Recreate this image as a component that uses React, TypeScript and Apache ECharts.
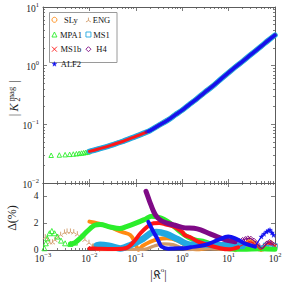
import React, { useEffect, useRef } from "react";
import * as echarts from "echarts";

// ---------- ticks ----------
const X_DECADES = [0.001, 0.01, 0.1, 1, 10, 100];
const Y_DECADES = [0.01, 0.1, 1, 10];
const DELTA_TICKS = [0, 2, 4];

const COLORS: Record<string, string> = {
  SLy: "#ff8a12",
  ENG: "#d09a68",
  MPA1: "#2bee2b",
  MS1: "#22a8e2",
  MS1b: "#ff1616",
  H4: "#7f0a86",
  ALF2: "#1212f0",
};

// ---------- top panel: |K2^mag| ----------
const MPA1_TOP_R = [0.0015, 0.00225, 0.003, 0.00375, 0.0045, 0.00525, 0.006, 0.00675, 0.0075, 0.00825, 0.009, 0.00975];
const MPA1_TOP_K = [0.0297, 0.03, 0.0304, 0.0308, 0.0312, 0.0316, 0.032, 0.0324, 0.0328, 0.0332, 0.0337, 0.0343];
// the EOS curves coincide within a pixel on this panel
const K_R = [0.01, 0.015, 0.02, 0.03, 0.05, 0.07, 0.1, 0.15, 0.2, 0.3, 0.5, 0.7, 1, 1.5, 2, 3, 5, 7, 10, 15, 20, 30, 50, 70, 100];
const K_MAIN = [0.0346, 0.0376, 0.0401, 0.0443, 0.0505, 0.056, 0.0622, 0.0708, 0.0778, 0.0942, 0.1193, 0.1439, 0.1745, 0.225, 0.267, 0.346, 0.477, 0.601, 0.763, 0.993, 1.18, 1.54, 2.13, 2.66, 3.31];
const H4_TOP_R = [0.166, 0.2, 0.3, 0.5, 0.7, 1, 1.5, 2, 3, 5, 7, 10, 15, 20, 30, 50, 70, 100];
const H4_TOP_K = [0.074, 0.0778, 0.0942, 0.1193, 0.1439, 0.1745, 0.225, 0.267, 0.346, 0.477, 0.601, 0.763, 0.993, 1.18, 1.54, 2.13, 2.66, 3.31];
const ALF2_TOP_R = [0.186, 0.2, 0.3, 0.5, 0.7, 1, 1.5, 2, 3, 5, 7, 10, 15, 20, 30, 50, 70, 100];
const ALF2_TOP_K = [0.0765, 0.0778, 0.0942, 0.1193, 0.1439, 0.1745, 0.225, 0.267, 0.346, 0.477, 0.601, 0.763, 0.993, 1.18, 1.54, 2.13, 2.66, 3.31];

// ---------- bottom panel: Delta (%) ----------
const SLY_D_R = [0.01, 0.0145, 0.017, 0.028, 0.05, 0.076, 0.095, 0.115, 0.14, 0.2, 0.3, 0.47, 0.8, 1.25, 2, 4, 8, 14, 20, 28, 38, 50, 65, 80, 100];
const SLY_D = [2.12, 2.0, 1.95, 1.7, 1.35, 1.12, 0.6, 0.02, 0.3, 0.6, 0.8, 0.87, 0.7, 0.3, 0.05, 0.15, 0.1, 0.05, 0.4, 0.75, 0.5, 0.05, 0.3, 0.55, 0.3];

const ENG_D_R = [0.00112, 0.00126, 0.0014, 0.0016, 0.0018, 0.0021, 0.0024, 0.0029, 0.0033, 0.0039, 0.0046, 0.0055, 0.0066, 0.008, 0.0098, 0.012, 0.015, 0.02, 0.05, 0.15, 0.25, 0.4, 0.63, 1.0, 1.4, 3, 10, 30, 100];
const ENG_D = [1.0, 0.8, 0.62, 0.62, 0.8, 1.0, 1.18, 1.35, 1.42, 1.42, 1.37, 1.22, 1.03, 0.82, 0.58, 0.33, 0.08, 0.02, 0.05, 0.05, 0.3, 0.45, 0.4, 0.15, 0.03, 0.1, 0.05, 0.2, 0.1];

const MPA1_D_R = [0.00107, 0.00115, 0.00123, 0.00138, 0.00155, 0.00178, 0.00204, 0.00245, 0.003, 0.0039, 0.0049, 0.0063, 0.0081, 0.0105, 0.013, 0.017, 0.028, 0.045, 0.063, 0.1, 0.16, 0.22, 0.3, 0.4, 0.55, 0.9, 1.15, 1.5, 1.9, 3.1, 6, 10, 20, 50, 100];
const MPA1_D = [0.13, 0.5, 0.87, 1.25, 1.42, 1.25, 1.0, 0.7, 0.5, 0.45, 0.55, 0.87, 1.25, 1.62, 1.85, 1.9, 1.72, 1.6, 1.75, 2.0, 2.3, 2.52, 2.45, 2.3, 2.0, 1.37, 1.1, 0.87, 0.75, 0.6, 0.25, 0.1, 0.05, 0.1, 0.05];

const MS1_D_R = [0.0145, 0.017, 0.028, 0.046, 0.08, 0.145, 0.22, 0.28, 0.45, 0.8, 1.5, 2.5, 5, 10, 20, 30, 40, 63, 80, 100];
const MS1_D = [0.35, 0.4, 0.3, 0.12, 0.4, 0.85, 1.3, 1.35, 1.2, 0.8, 0.4, 0.45, 0.35, 0.35, 0.3, 0.35, 0.2, 0.35, 0.3, 0.3];

const MS1B_D_R = [0.01, 0.015, 0.025, 0.04, 0.063, 0.09, 0.126, 0.178, 0.24, 0.32, 0.45, 0.65, 1.0, 1.15, 1.5, 2.2, 3.6, 6.3, 10, 16, 22, 28, 34, 40, 50, 60, 70, 85, 100];
const MS1B_D = [0.12, 0.1, 0.08, 0.08, 0.15, 0.6, 1.25, 1.75, 2.0, 2.02, 1.9, 1.75, 1.35, 1.1, 0.95, 0.62, 0.37, 0.15, 0.05, 0.2, 0.45, 0.6, 0.5, 0.3, 0.05, 0.3, 0.5, 0.45, 0.3];

const H4_D_R = [0.166, 0.2, 0.24, 0.28, 0.35, 0.47, 0.7, 1.15, 1.8, 2.5, 4, 7, 10, 13.8, 17, 20, 23, 26, 30, 35, 41, 48, 54, 60, 68, 76, 84, 93];
const H4_D = [4.37, 3.6, 2.9, 2.5, 2.2, 2.0, 1.85, 1.65, 1.62, 1.5, 1.2, 0.87, 0.7, 0.62, 0.66, 0.75, 0.82, 0.87, 0.85, 0.7, 0.45, 0.2, 0.12, 0.3, 0.5, 0.6, 0.5, 0.4];

const ALF2_D_R = [0.186, 0.21, 0.245, 0.28, 0.32, 0.36, 0.5, 0.65, 1.15, 1.5, 3.1, 6, 9.8, 13.8, 22, 37, 51, 58, 66, 72, 78, 86, 93];
const ALF2_D = [2.1, 1.75, 1.3, 0.95, 0.55, 0.25, 0.1, 0.12, 0.13, 0.2, 0.37, 0.75, 1.0, 0.87, 0.5, 0.25, 1.0, 1.2, 1.37, 1.45, 1.5, 1.3, 1.12];

// ---------- style ----------
const FONT = "'Liberation Serif', 'DejaVu Serif', serif";
const AXC = "#5c5c5c";
const TXT = "#222";

const SYM_ENG = "path://M5,5L5,0M5,5L0.67,7.5M5,5L9.33,7.5";
const SYM_X = "path://M0,0L10,10M0,10L10,0";
const SYM_STAR = "path://M5,0L6.18,3.38L9.76,3.45L6.9,5.62L7.94,9.05L5,7L2.06,9.05L3.1,5.62L0.24,3.45L3.82,3.38Z";

function minorTicks(decades: number[]) {
  const out: number[] = [];
  for (let i = 0; i < decades.length - 1; i++)
    for (let k = 2; k <= 9; k++) out.push(+(decades[i] * k).toPrecision(3));
  return out;
}

const pow10 = (v: number) => {
  const e = Math.round(Math.log10(v));
  return `{b|10}{s|${e < 0 ? "\u2212" + -e : e}}`;
};
const powRich = {
  b: { fontSize: 9.5, fontFamily: FONT, color: TXT, lineHeight: 13, verticalAlign: "bottom" },
  s: { fontSize: 6.5, fontFamily: FONT, color: TXT, lineHeight: 5, verticalAlign: "top" },
};

const tickLine = { color: AXC, width: 0.8 };

function xAx(grid: number, position: string, ticks: number[], len: number, line: boolean, label?: any) {
  return {
    type: "log", logBase: 10, gridIndex: grid, position, min: 0.001, max: 100,
    axisLine: { show: line, lineStyle: { color: AXC, width: 1 } },
    axisTick: { show: true, inside: true, length: len, customValues: ticks, lineStyle: tickLine },
    axisLabel: label ?? { show: false },
    splitLine: { show: false }, silent: true,
  };
}
function yLog(grid: number, position: string, ticks: number[], len: number, line: boolean, label?: any) {
  return {
    type: "log", logBase: 10, gridIndex: grid, position, min: 0.01, max: 10,
    axisLine: { show: line, lineStyle: { color: AXC, width: 1 } },
    axisTick: { show: true, inside: true, length: len, customValues: ticks, lineStyle: tickLine },
    axisLabel: label ?? { show: false },
    splitLine: { show: false }, silent: true,
  };
}
function yLin(grid: number, position: string, ticks: number[], len: number, line: boolean, label?: any) {
  return {
    type: "value", gridIndex: grid, position, min: 0, max: 5,
    axisLine: { show: line, lineStyle: { color: AXC, width: 1 } },
    axisTick: { show: true, inside: true, length: len, customValues: ticks, lineStyle: tickLine },
    axisLabel: label ?? { show: false },
    splitLine: { show: false }, silent: true,
  };
}

const pts = (r: number[], v: number[]) => r.map((x, i) => [x, v[i]]);
const TOP = 0;
const BOT = 4;

function line(name: string, axis: number, r: number[], v: number[], width: number) {
  const c = COLORS[name];
  return {
    type: "line", name, xAxisIndex: axis, yAxisIndex: axis, data: pts(r, v),
    smooth: 0.35, symbol: "none", showSymbol: false,
    lineStyle: { color: c, width, cap: "round", join: "round" },
    itemStyle: { color: c }, silent: true, animation: false,
  };
}
function marks(name: string, axis: number, r: number[], v: number[], symbol: string, size: number, filled = false) {
  const c = COLORS[name];
  return {
    type: "scatter", name, xAxisIndex: axis, yAxisIndex: axis, data: pts(r, v),
    symbol, symbolSize: size,
    itemStyle: { color: filled ? c : "rgba(255,255,255,0)", borderColor: c, borderWidth: filled ? 0.3 : 0.9, opacity: 1 },
    silent: true, animation: false,
  };
}
// bottom-panel series: thick band, then a thin tail with discrete markers
function withTail(name: string, r: number[], v: number[], width: number, cut: number, symbol: string, size: number, filled = false) {
  return [
    line(name, BOT, r.slice(0, cut + 1), v.slice(0, cut + 1), width),
    line(name, BOT, r.slice(cut), v.slice(cut), 1.2),
    marks(name, BOT, r.slice(cut), v.slice(cut), symbol, size, filled),
  ];
}

function buildOption() {
  const xMin = minorTicks(X_DECADES);
  const yMin = minorTicks(Y_DECADES);
  const series: any[] = [
    // top panel
    line("SLy", TOP, K_R, K_MAIN, 4),
    line("ENG", TOP, K_R, K_MAIN, 3.5),
    marks("MPA1", TOP, MPA1_TOP_R, MPA1_TOP_K, "triangle", 4.5),
    line("MPA1", TOP, K_R, K_MAIN, 4.5),
    line("MS1", TOP, K_R, K_MAIN, 5.5),
    line("MS1b", TOP, K_R, K_MAIN, 3),
    line("H4", TOP, H4_TOP_R, H4_TOP_K, 3),
    line("ALF2", TOP, ALF2_TOP_R, ALF2_TOP_K, 3.4),
    // bottom panel
    ...withTail("SLy", SLY_D_R, SLY_D, 4, 17, "circle", 4.5),
    marks("ENG", BOT, ENG_D_R.slice(0, 17), ENG_D.slice(0, 17), SYM_ENG, 5),
    line("ENG", BOT, ENG_D_R.slice(15), ENG_D.slice(15), 3.2),
    marks("MPA1", BOT, MPA1_D_R.slice(0, 11), MPA1_D.slice(0, 11), "triangle", 5),
    line("MPA1", BOT, MPA1_D_R.slice(9), MPA1_D.slice(9), 5),
    ...withTail("MS1", MS1_D_R, MS1_D, 6.5, 14, "rect", 4.5),
    ...withTail("MS1b", MS1B_D_R, MS1B_D, 4, 19, SYM_X, 4),
    ...withTail("H4", H4_D_R, H4_D, 5, 13, "diamond", 5),
    ...withTail("ALF2", ALF2_D_R, ALF2_D, 4, 15, SYM_STAR, 5, true),
  ];

  const legendCommon = {
    orient: "vertical", itemWidth: 5, itemHeight: 5, itemGap: 5.7, top: 15.3, padding: 0,
    selectedMode: false, z: 6,
  };
  const hollow = (n: string) => ({ color: "rgba(255,255,255,0)", borderColor: COLORS[n], borderWidth: 0.9 });

  return {
    animation: false,
    backgroundColor: "#fff",
    grid: [
      { left: 43, top: 7, width: 232, height: 176, containLabel: false },
      { left: 43, top: 183, width: 232, height: 67, containLabel: false },
    ],
    xAxis: [
      xAx(0, "bottom", X_DECADES, 4, true),
      xAx(0, "bottom", xMin, 2, false),
      xAx(0, "top", X_DECADES, 4, true),
      xAx(0, "top", xMin, 2, false),
      xAx(1, "bottom", X_DECADES, 4, true, {
        show: true, customValues: X_DECADES, formatter: pow10, rich: powRich, margin: 1,
      }),
      xAx(1, "bottom", xMin, 2, false),
      xAx(1, "top", X_DECADES, 4, true),
      xAx(1, "top", xMin, 2, false),
    ],
    yAxis: [
      yLog(0, "left", Y_DECADES, 4, true, {
        show: true, customValues: Y_DECADES, formatter: pow10, rich: powRich, margin: 4,
      }),
      yLog(0, "left", yMin, 2, false),
      yLog(0, "right", Y_DECADES, 4, true),
      yLog(0, "right", yMin, 2, false),
      yLin(1, "left", DELTA_TICKS, 4, true, {
        show: true, customValues: DELTA_TICKS, fontSize: 9.5, fontFamily: FONT, color: TXT, margin: 4.5,
      }),
      yLin(1, "right", DELTA_TICKS, 4, true),
    ],
    legend: [
      {
        ...legendCommon, left: 51.5,
        formatter: "{c|{name}}",
        textStyle: { rich: { c: { width: 18, align: "center", lineHeight: 6, fontSize: 8.5, fontFamily: FONT, color: "#111" } } },
        data: [
          { name: "SLy", icon: "circle", itemStyle: hollow("SLy") },
          { name: "MPA1", icon: "triangle", itemStyle: hollow("MPA1") },
          { name: "MS1b", icon: SYM_X, itemStyle: hollow("MS1b") },
          { name: "ALF2", icon: SYM_STAR, itemStyle: { color: COLORS.ALF2, borderColor: COLORS.ALF2, borderWidth: 0.3 } },
        ],
      },
      {
        ...legendCommon, left: 85.5,
        formatter: "{c|{name}}",
        textStyle: { rich: { c: { width: 11, align: "center", lineHeight: 6, fontSize: 8.5, fontFamily: FONT, color: "#111" } } },
        data: [
          { name: "ENG", icon: SYM_ENG, itemStyle: hollow("ENG") },
          { name: "MS1", icon: "rect", itemStyle: hollow("MS1") },
          { name: "H4", icon: "diamond", itemStyle: hollow("H4") },
        ],
      },
    ],
    graphic: [
      {
        type: "rect", z: 5, silent: true,
        shape: { x: 49.5, y: 12.5, width: 67.5, height: 50 },
        style: { fill: "#fff", stroke: "#9a9a9a", lineWidth: 1 },
      },
      {
        type: "group", x: 13.5, y: 99, rotation: Math.PI / 2, silent: true,
        children: [
          { type: "text", x: -16, y: 0, style: { text: "|", font: `12px ${FONT}`, fill: TXT, align: "center", verticalAlign: "middle", textAlign: "center", textVerticalAlign: "middle" } },
          { type: "text", x: -8.5, y: 0, style: { text: "K", font: `italic 12px ${FONT}`, fill: TXT, align: "center", verticalAlign: "middle", textAlign: "center", textVerticalAlign: "middle" } },
          { type: "text", x: -2.5, y: 3.5, style: { text: "2", font: `8px ${FONT}`, fill: TXT, align: "left", verticalAlign: "middle", textAlign: "left", textVerticalAlign: "middle" } },
          { type: "text", x: -2.5, y: -3, style: { text: "mag", font: `8.5px ${FONT}`, fill: TXT, align: "left", verticalAlign: "middle", textAlign: "left", textVerticalAlign: "middle" } },
          { type: "text", x: 17.5, y: 0, style: { text: "|", font: `12px ${FONT}`, fill: TXT, align: "center", verticalAlign: "middle", textAlign: "center", textVerticalAlign: "middle" } },
        ],
      },
      {
        type: "text", x: 12, y: 218, rotation: Math.PI / 2, silent: true,
        style: { text: "Δ(%)", font: `12px ${FONT}`, fill: TXT, align: "center", verticalAlign: "middle", textAlign: "center", textVerticalAlign: "middle" },
      },
      {
        type: "text", x: 158.5, y: 273.5, silent: true,
        style: {
          text: "{a||\u{1D50E}}{s|o}{a||}",
          align: "center", verticalAlign: "middle", textAlign: "center", textVerticalAlign: "middle",
          rich: {
            a: { fontSize: 12, fontFamily: FONT, color: TXT, fill: TXT, lineHeight: 15, verticalAlign: "bottom" },
            s: { fontSize: 7, fontFamily: FONT, color: TXT, fill: TXT, lineHeight: 7, verticalAlign: "top" },
          },
        },
      },
    ],
    series,
  };
}

export default function App() {
  const ref = useRef<HTMLDivElement>(null);
  useEffect(() => {
    if (!ref.current) return;
    const chart = echarts.init(ref.current, null, { renderer: "svg" });
    chart.setOption(buildOption() as any);
    return () => chart.dispose();
  }, []);
  return (
    <div
      ref={ref}
      style={{ position: "fixed", left: 0, top: 0, width: 285, height: 283, background: "#fff" }}
    />
  );
}
